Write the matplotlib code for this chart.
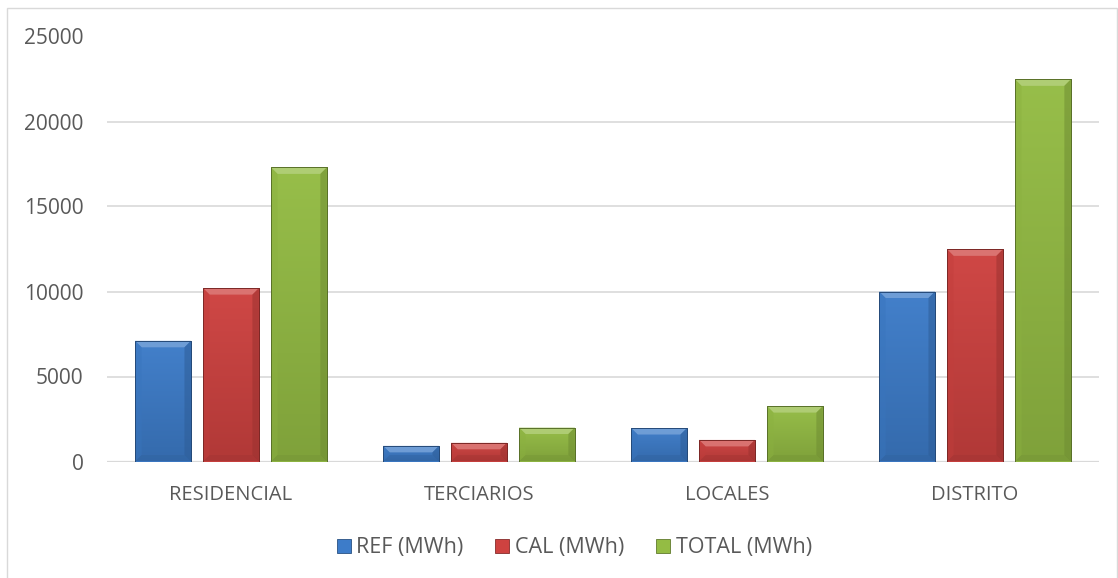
import numpy as np
import matplotlib
matplotlib.use("Agg")
import matplotlib.pyplot as plt
from matplotlib.patches import Polygon, Rectangle
from matplotlib.colors import to_rgb

categories = ["RESIDENCIAL", "TERCIARIOS", "LOCALES", "DISTRITO"]
series_names = ["REF (MWh)", "CAL (MWh)", "TOTAL (MWh)"]
ref_mwh = [7100, 920, 1970, 10000]
cal_mwh = [10200, 1100, 1270, 12480]
total_mwh = [17300, 2000, 3260, 22480]
y_ticks = [0, 5000, 10000, 15000, 20000, 25000]

series_values = [ref_mwh, cal_mwh, total_mwh]
base_colors = ["#3D7CC9", "#CE4240", "#94BC44"]
text_color = "#595959"
font = "Open Sans"

W, H = 1118, 578
fig = plt.figure(figsize=(W / 100, H / 100), dpi=100)
fig.patch.set_facecolor("white")

# outer chart frame
fig.add_artist(Rectangle((7 / W, -0.1), (W - 8) / W, 1.1 - 8 / H,
                         transform=fig.transFigure, fill=False,
                         edgecolor="#D9D9D9", linewidth=1.0))

ax_l, ax_r, ax_b, ax_t = 107, 1099, 461.5, 36.5
ax = fig.add_axes([ax_l / W, (H - ax_b) / H, (ax_r - ax_l) / W, (ax_b - ax_t) / H])
ax.set_xlim(-0.5, len(categories) - 0.5)
ax.set_ylim(0, 25000)
for s in ax.spines.values():
    s.set_visible(False)
ax.set_yticks(y_ticks)
ax.set_yticklabels([str(v) for v in y_ticks])
ax.yaxis.grid(True, color="#D9D9D9", linewidth=1.2)
ax.set_axisbelow(True)
ax.tick_params(axis="y", length=0, pad=17, labelsize=15, labelcolor=text_color)
ax.set_xticks(range(len(categories)))
ax.set_xticklabels(categories)
ax.tick_params(axis="x", length=0, pad=17, labelsize=14.5, labelcolor=text_color)
for lbl in ax.get_xticklabels() + ax.get_yticklabels():
    lbl.set_fontfamily(font)
ax.axhline(0, color="#D9D9D9", linewidth=1.6, zorder=1)

px_x = (ax_r - ax_l) / 4.0          # pixels per category unit
px_y = (ax_b - ax_t) / 25000.0      # pixels per MWh
bw = 0.225
step = 0.274
bev_x = 6.5 / px_x
bev_y = 6.5 / px_y


def shade(c, f):
    r = np.array(to_rgb(c))
    if f >= 0:
        return tuple(r + (1 - r) * f)
    return tuple(r * (1 + f))


for si, (vals, col) in enumerate(zip(series_values, base_colors)):
    xs = np.arange(len(categories)) + (si - 1) * step
    bars = ax.bar(xs, vals, width=bw, color=col, zorder=3,
                  edgecolor=shade(col, -0.35), linewidth=0.6,
                  label=series_names[si])
    for b in bars:
        x0, w, h = b.get_x(), b.get_width(), b.get_height()
        # soft drop shadow
        ax.add_patch(Rectangle((x0 + 1.5 / px_x, -2.5 / px_y), w, h,
                               color="#000000", alpha=0.10, zorder=2.5,
                               linewidth=0))
        # body gradient, lighter at top, darker towards the bottom
        n = 64
        t = np.linspace(0, 1, n)[:, None]
        top_c = np.array(shade(col, 0.03))
        bot_c = np.array(shade(col, -0.14))
        grad = top_c * (1 - t[..., None]) + bot_c * t[..., None]
        grad = np.repeat(grad, 2, axis=1)
        im = ax.imshow(grad, extent=(x0, x0 + w, 0, h), origin="upper",
                       aspect="auto", zorder=3.1, interpolation="bilinear")
        im.set_clip_path(b)
        bx = min(bev_x, w / 2)
        by = min(bev_y, h / 2)
        # top bevel, a highlight fading into the face
        ax.add_patch(Polygon([(x0, h), (x0 + w, h), (x0 + w - bx, h - by),
                              (x0 + bx, h - by)], closed=True,
                             facecolor=shade(col, 0.30), edgecolor="none",
                             zorder=3.2, alpha=0.85))
        # left bevel
        ax.add_patch(Polygon([(x0, 0), (x0, h), (x0 + bx, h - by),
                              (x0 + bx, by)], closed=True,
                             facecolor=shade(col, -0.06), edgecolor="none",
                             zorder=3.2, alpha=0.45))
        # right bevel
        ax.add_patch(Polygon([(x0 + w, 0), (x0 + w, h), (x0 + w - bx, h - by),
                              (x0 + w - bx, by)], closed=True,
                             facecolor=shade(col, -0.25), edgecolor="none",
                             zorder=3.2, alpha=0.55))
        # bottom bevel
        ax.add_patch(Polygon([(x0, 0), (x0 + w, 0), (x0 + w - bx, by),
                              (x0 + bx, by)], closed=True,
                             facecolor=shade(col, -0.22), edgecolor="none",
                             zorder=3.2, alpha=0.4))
        ax.add_patch(Rectangle((x0, 0), w, h, fill=False,
                               edgecolor=shade(col, -0.4), linewidth=0.7,
                               zorder=3.3))

legend_y = -(548 - ax_b) / (ax_b - ax_t)
ax.legend(loc="center", bbox_to_anchor=(0.471, legend_y),
          ncol=3, frameon=False, prop={"family": font, "size": 15.5},
          handlelength=0.65, handleheight=0.65, handletextpad=0.25,
          columnspacing=1.5, labelcolor=text_color)

fig.savefig("out.png", dpi=100, facecolor="white")
